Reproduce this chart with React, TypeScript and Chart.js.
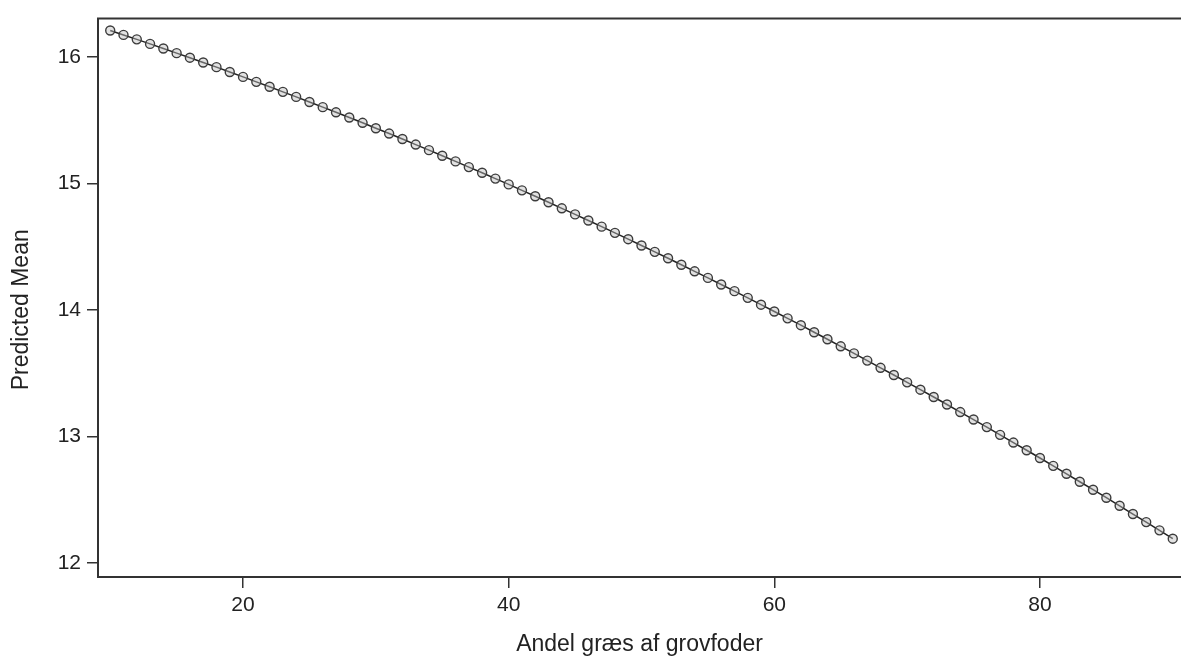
import React, { useEffect, useRef } from "react";
import { Chart, registerables } from "chart.js";

Chart.register(...registerables);

const X_VALUES: number[] = [
  10, 11, 12, 13, 14, 15, 16, 17, 18, 19,
  20, 21, 22, 23, 24, 25, 26, 27, 28, 29,
  30, 31, 32, 33, 34, 35, 36, 37, 38, 39,
  40, 41, 42, 43, 44, 45, 46, 47, 48, 49,
  50, 51, 52, 53, 54, 55, 56, 57, 58, 59,
  60, 61, 62, 63, 64, 65, 66, 67, 68, 69,
  70, 71, 72, 73, 74, 75, 76, 77, 78, 79,
  80, 81, 82, 83, 84, 85, 86, 87, 88, 89,
  90,
];

const PREDICTED_MEAN: number[] = [
  16.211, 16.176, 16.141, 16.105, 16.069, 16.032, 15.996, 15.958, 15.921, 15.883,
  15.844, 15.805, 15.766, 15.726, 15.686, 15.646, 15.605, 15.564, 15.523, 15.481,
  15.438, 15.396, 15.353, 15.309, 15.265, 15.221, 15.176, 15.131, 15.086, 15.040,
  14.994, 14.947, 14.900, 14.853, 14.805, 14.757, 14.709, 14.660, 14.611, 14.561,
  14.511, 14.461, 14.410, 14.359, 14.307, 14.255, 14.203, 14.150, 14.097, 14.043,
  13.989, 13.935, 13.881, 13.825, 13.770, 13.714, 13.658, 13.601, 13.544, 13.487,
  13.429, 13.371, 13.313, 13.254, 13.194, 13.135, 13.075, 13.014, 12.953, 12.892,
  12.831, 12.769, 12.706, 12.643, 12.580, 12.517, 12.453, 12.388, 12.324, 12.259,
  12.193,
];

const X_TICKS: number[] = [20, 40, 60, 80];
const Y_TICKS: number[] = [12, 13, 14, 15, 16];

const X_TITLE = "Andel græs af grovfoder";
const Y_TITLE = "Predicted Mean";

const FONT_FAMILY = '"Liberation Sans", Arial, sans-serif';
const AXIS_COLOR = "#333333";
const TEXT_COLOR = "#222222";
const TICK_FONT_SIZE = 21;
const TITLE_FONT_SIZE = 23;

const framePlugin = {
  id: "frameAndTitle",
  afterDraw(chart: any) {
    const { ctx, chartArea } = chart;
    ctx.save();
    ctx.strokeStyle = AXIS_COLOR;
    ctx.lineWidth = 2;
    ctx.beginPath();
    ctx.moveTo(chartArea.left - 1, chartArea.top);
    ctx.lineTo(chart.width, chartArea.top);
    ctx.stroke();
    // vertical axis title, centred a little below the plot centre as in the reference
    ctx.fillStyle = TEXT_COLOR;
    ctx.font = `${TITLE_FONT_SIZE}px ${FONT_FAMILY}`;
    ctx.textAlign = "center";
    ctx.textBaseline = "middle";
    ctx.translate(22, (chartArea.top + chartArea.bottom) / 2 + 12);
    ctx.rotate(-Math.PI / 2);
    ctx.fillText(Y_TITLE, 0, 0);
    ctx.restore();
  },
};

export default function App() {
  const canvasRef = useRef<HTMLCanvasElement | null>(null);

  useEffect(() => {
    if (!canvasRef.current) return;
    const chart = new Chart(canvasRef.current, {
      type: "line",
      data: {
        datasets: [
          {
            data: X_VALUES.map((x, i) => ({ x, y: PREDICTED_MEAN[i] })),
            borderColor: "#222222",
            borderWidth: 1.5,
            pointRadius: 4.5,
            pointBorderWidth: 1.4,
            pointBorderColor: "#3c3c3c",
            pointBackgroundColor: "rgba(190,190,190,0.45)",
            tension: 0,
            fill: false,
          },
        ],
      },
      options: {
        responsive: false,
        devicePixelRatio: 1,
        animation: false,
        layout: { autoPadding: false, padding: { top: 13, right: 0, left: 0, bottom: 0 } },
        plugins: {
          legend: { display: false },
          tooltip: { enabled: false },
        },
        scales: {
          x: {
            type: "linear",
            position: "bottom",
            min: 9.08,
            max: 90.62,
            afterBuildTicks: (scale: any) => {
              scale.ticks = X_TICKS.map((v) => ({ value: v }));
            },
            afterFit: (scale: any) => {
              scale.height = 84;
            },
            grid: {
              display: true,
              drawOnChartArea: false,
              drawTicks: true,
              tickLength: 11,
              color: AXIS_COLOR,
              lineWidth: 1.5,
            },
            border: { display: true, color: AXIS_COLOR, width: 2 },
            ticks: {
              color: TEXT_COLOR,
              font: { family: FONT_FAMILY, size: TICK_FONT_SIZE },
              padding: 5,
              maxRotation: 0,
            },
            title: {
              display: true,
              text: X_TITLE,
              color: TEXT_COLOR,
              font: { family: FONT_FAMILY, size: TITLE_FONT_SIZE },
              padding: { top: 0, bottom: 3 },
            },
          },
          y: {
            type: "linear",
            min: 11.89,
            max: 16.305,
            afterBuildTicks: (scale: any) => {
              scale.ticks = Y_TICKS.map((v) => ({ value: v }));
            },
            afterFit: (scale: any) => {
              scale.width = 98;
            },
            grid: {
              display: true,
              drawOnChartArea: false,
              drawTicks: true,
              tickLength: 11,
              color: AXIS_COLOR,
              lineWidth: 1.5,
            },
            border: { display: true, color: AXIS_COLOR, width: 2 },
            ticks: {
              color: TEXT_COLOR,
              font: { family: FONT_FAMILY, size: TICK_FONT_SIZE },
              padding: 6,
            },
            title: { display: false },
          },
        },
      },
      plugins: [framePlugin],
    });
    return () => chart.destroy();
  }, []);

  return (
    <div
      style={{
        position: "fixed",
        left: 0,
        top: 0,
        width: 1181,
        height: 661,
        background: "#ffffff",
      }}
    >
      <canvas
        ref={canvasRef}
        width={1181}
        height={661}
        style={{ display: "block", width: 1181, height: 661 }}
      />
    </div>
  );
}
